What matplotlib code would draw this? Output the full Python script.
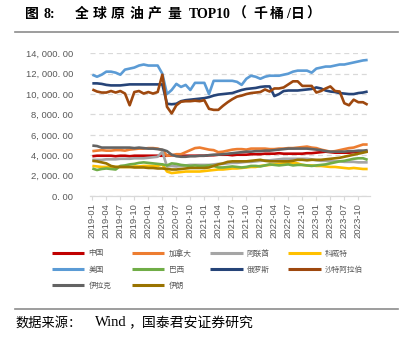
import matplotlib
matplotlib.use("Agg")
import matplotlib.pyplot as plt
import pandas as pd
from matplotlib.lines import Line2D

plt.rcParams['font.family'] = ['Noto Sans CJK SC', 'DejaVu Sans']

months = pd.date_range("2019-01-01", "2023-12-01", freq="MS")
month_labels = [d.strftime("%Y-%m") for d in months]

china = [3900, 3950, 3950, 3950, 3950, 3900, 3950, 3950, 3900, 3950, 3950, 3950,
         3950, 3950, 3950, 3950, 3950, 4000, 4000, 3950, 3950, 3950, 3950, 3950,
         3950, 4000, 4000, 4050, 4050, 4050, 4000, 4050, 4050, 4050, 4100, 4100,
         4100, 4150, 4150, 4150, 4200, 4150, 4150, 4150, 4150, 4150, 4200, 4200,
         4250, 4300, 4350, 4300, 4250, 4250, 4250, 4250, 4300, 4300, 4350, 4350]
canada = [4400, 4450, 4500, 4450, 4450, 4500, 4500, 4450, 4550, 4600, 4650, 4650,
          4700, 4700, 4650, 4500, 3950, 4000, 4100, 4100, 4300, 4500, 4700, 4750,
          4650, 4550, 4500, 4300, 4350, 4450, 4550, 4600, 4600, 4550, 4650, 4650,
          4650, 4650, 4600, 4600, 4650, 4650, 4700, 4700, 4750, 4800, 4850, 4750,
          4700, 4550, 4450, 4350, 4400, 4500, 4600, 4700, 4750, 4900, 5050, 5050]
uae = [3550, 3550, 3550, 3600, 3600, 3600, 3650, 3650, 3650, 3700, 3700, 3700,
       3750, 3800, 3850, 4350, 2900, 2950, 2900, 2950, 3000, 3050, 3050, 3050,
       3050, 3050, 3100, 3150, 3150, 3200, 3250, 3250, 3300, 3350, 3350, 3400,
       3450, 3500, 3500, 3550, 3600, 3650, 3650, 3650, 3650, 3650, 3650, 3600,
       3500, 3450, 3450, 3400, 3400, 3400, 3350, 3350, 3350, 3300, 3300, 3300]
kuwait = [2950, 2900, 2850, 2850, 2850, 2850, 2850, 2850, 2850, 2900, 2900, 2950,
          2950, 2950, 2950, 3100, 2400, 2250, 2300, 2350, 2400, 2400, 2400, 2400,
          2450, 2500, 2550, 2600, 2600, 2650, 2700, 2700, 2750, 2800, 2850, 2850,
          2950, 3000, 3050, 3100, 3150, 3200, 3200, 3250, 3200, 3050, 3000, 3000,
          2950, 2950, 2900, 2850, 2850, 2800, 2750, 2700, 2750, 2700, 2650, 2650]
usa = [11900, 11700, 11900, 12200, 12200, 12100, 11900, 12400, 12500, 12600, 12800, 12900,
       12800, 12800, 12800, 12000, 10000, 10400, 11000, 10700, 10900, 10400, 11100, 11100,
       11100, 10000, 11300, 11300, 11300, 11300, 11300, 11200, 10900, 11500, 11800, 11700,
       11500, 11700, 11800, 11800, 11800, 11900, 12000, 12200, 12300, 12300, 12300, 12100,
       12500, 12600, 12700, 12700, 12800, 12900, 12900, 13000, 13100, 13200, 13300, 13350]
brazil = [2700, 2550, 2650, 2700, 2650, 2600, 2950, 3000, 3100, 3150, 3250, 3300,
          3250, 3200, 3150, 3100, 3000, 3200, 3150, 3050, 3000, 2950, 3000, 2950,
          2950, 3000, 2950, 2800, 2800, 2850, 2900, 2850, 2800, 2850, 2950, 2950,
          2900, 3000, 3100, 3050, 3000, 3050, 3100, 3000, 3050, 3050, 3000, 2950,
          3000, 3050, 3100, 3200, 3300, 3400, 3450, 3550, 3650, 3700, 3700, 3550]
russia = [11050, 11050, 11000, 10900, 10850, 10850, 10850, 10900, 10950, 10950, 10950, 10950,
          10950, 10950, 10950, 10950, 9050, 9000, 9050, 9300, 9400, 9450, 9500, 9550,
          9600, 9700, 9850, 9950, 10000, 10050, 10100, 10250, 10400, 10500, 10550, 10600,
          10700, 10750, 10750, 9800, 10000, 10300, 10350, 10350, 10350, 10400, 10450, 10500,
          10650, 10550, 10350, 10250, 10200, 10100, 10050, 10000, 10000, 10100, 10150, 10250]
saudi = [10450, 10250, 10150, 10150, 10300, 10150, 10300, 10050, 8900, 10200, 10300, 10050,
         10200, 10050, 10200, 11900, 8750, 8100, 8900, 9250, 9300, 9300, 9350, 9300,
         9400, 8550, 8450, 8450, 8850, 9200, 9500, 9750, 9850, 10000, 10100, 10150,
         10200, 10450, 10250, 10550, 10550, 10650, 10950, 11250, 11250, 10800, 10800, 10800,
         10150, 10300, 10550, 10750, 10300, 10250, 9100, 8900, 9450, 9200, 9200, 8950]
iraq = [4950, 4900, 4750, 4750, 4750, 4750, 4750, 4750, 4750, 4700, 4750, 4700,
        4650, 4650, 4600, 4550, 4400, 4050, 3900, 3850, 3850, 3900, 3900, 3950,
        3950, 4000, 4050, 4050, 4100, 4150, 4200, 4250, 4300, 4350, 4350, 4400,
        4400, 4450, 4450, 4500, 4550, 4600, 4650, 4650, 4650, 4650, 4650, 4600,
        4550, 4500, 4400, 4350, 4350, 4350, 4350, 4400, 4400, 4450, 4450, 4500]
iran = [3450, 3400, 3300, 3200, 2950, 2850, 2850, 2850, 2850, 2800, 2800, 2800,
        2750, 2750, 2700, 2700, 2650, 2600, 2600, 2650, 2700, 2750, 2750, 2750,
        2750, 2800, 2950, 3100, 3200, 3350, 3400, 3400, 3400, 3400, 3450, 3500,
        3550, 3450, 3400, 3400, 3400, 3400, 3400, 3450, 3550, 3550, 3500, 3550,
        3550, 3550, 3600, 3650, 3700, 3750, 3850, 3950, 4050, 4150, 4250, 4350]

series_names = ["中国", "加拿大", "阿联酋", "科威特", "美国", "巴西", "俄罗斯", "沙特阿拉伯", "伊拉克", "伊朗"]
series_values = [china, canada, uae, kuwait, usa, brazil, russia, saudi, iraq, iran]
colors = ["#c00000", "#ed7d31", "#a5a5a5", "#ffc000", "#5b9bd5", "#70ad47",
          "#264478", "#9e480e", "#636363", "#997300"]

yticks = [0, 2000, 4000, 6000, 8000, 10000, 12000, 14000]

W, H = 404, 342
fig = plt.figure(figsize=(W / 100, H / 100), dpi=100)
ax = fig.add_axes([90 / W, 1 - 196 / H, 280 / W, (196 - 53.3) / H])

x = list(range(len(months)))
handles = {}
for name, vals, c in zip(series_names, series_values, colors):
    ln, = ax.plot(x, vals, color=c, lw=1.9, solid_capstyle='butt', solid_joinstyle='round')
    handles[name] = ln

ax.set_xlim(-0.5, len(months) - 0.5)
ax.set_ylim(0, 14000)
ax.set_yticks(yticks)
ax.set_yticklabels([f"{v:,.2f}".replace(",", ", ").replace(".", ". ") for v in yticks],
                   family=['Liberation Sans', 'DejaVu Sans'], fontsize=6.8, color="#595959")
ax.yaxis.grid(True, color="#d9d9d9", linestyle=(0, (4, 3)), lw=0.9)
ax.set_axisbelow(True)
ax.tick_params(axis='y', length=0, pad=12)
tick_idx = list(range(0, len(months), 3))
ax.set_xticks(tick_idx)
ax.set_xticklabels([month_labels[i] for i in tick_idx], rotation=90,
                   family=['Liberation Sans', 'DejaVu Sans'], fontsize=6.8, color="#595959")
ax.tick_params(axis='x', length=3, color="#d9d9d9", pad=2)
for s in ["left", "right", "top"]:
    ax.spines[s].set_visible(False)
ax.spines["bottom"].set_color("#d9d9d9")
ax.spines["bottom"].set_linewidth(0.9)

# Title, pieces placed to mimic the wide letter spacing of the original
serif = ['Liberation Serif', 'DejaVu Serif']
title_pieces = [("图", 25, None), ("8:", 43, serif), ("全", 75, None), ("球", 93, None),
                ("原", 111, None), ("油", 130, None), ("产", 148, None), ("量", 167, None),
                ("TOP10", 189, serif), ("（", 233, None), ("千", 253, None),
                ("桶", 270, None), ("/", 286, serif), ("日", 291, None), ("）", 306, None)]
for txt, px, fam in title_pieces:
    kw = {} if fam is None else {"family": fam}
    fig.text(px / W, 1 - 14 / H, txt, fontsize=10, fontweight='bold',
             va='center', ha='left', color="#000000", **kw)
fig.add_artist(Line2D([15 / W, 398 / W], [1 - 32 / H, 1 - 32 / H], color="#8c8c8c", lw=1.2))

# Legend: one legend per column so that columns sit at the original positions
columns = [(["中国", "美国", "伊拉克"], 51.7), (["加拿大", "巴西", "伊朗"], 131.7),
           (["阿联酋", "俄罗斯"], 210), (["科威特", "沙特阿拉伯"], 288)]
for names, px in columns:
    leg = fig.legend([handles[n] for n in names], names, loc='upper left',
                     bbox_to_anchor=(px / W, 1 - 249.5 / H), frameon=False, fontsize=5.5,
                     handlelength=4.27, handletextpad=0.55, labelspacing=1.05,
                     borderpad=0, borderaxespad=0)
    for t in leg.get_texts():
        t.set_color("#595959")
    for l in leg.get_lines():
        l.set_linewidth(2.2)

# Source
fig.add_artist(Line2D([15 / W, 398 / W], [1 - 309 / H, 1 - 309 / H], color="#8c8c8c", lw=1.2))
fig.text(15 / W, 1 - 323 / H, "数据来源：", fontsize=9.5, va='center', ha='left', color="#000000")
fig.text(95 / W, 1 - 323 / H, "Wind", fontsize=10.5, va='center', ha='left',
         color="#000000", family=serif)
fig.text(128 / W, 1 - 323 / H, "，国泰君安证券研究", fontsize=10, va='center', ha='left',
         color="#000000")

fig.savefig("out.png", dpi=100)
